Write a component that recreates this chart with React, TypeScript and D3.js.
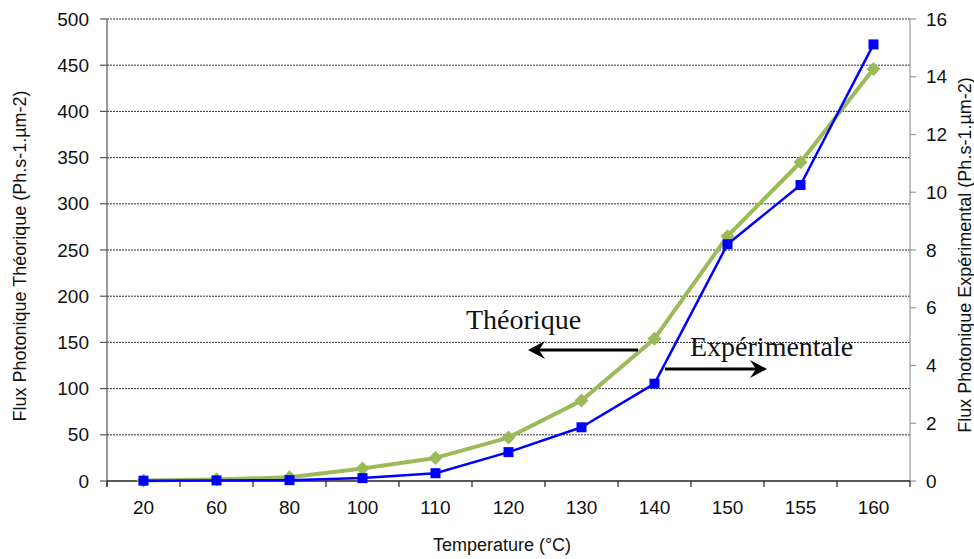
import React from "react";
import * as d3 from "d3";

const categories = ["20", "60", "80", "100", "110", "120", "130", "140", "150", "155", "160"];
const theorique = [0.5, 1.6, 4, 13.5, 25, 47, 87, 154, 265, 345, 446];
const experimental = [0.01, 0.02, 0.03, 0.1, 0.27, 1.0, 1.86, 3.37, 8.2, 10.25, 15.12];
const leftTicks = [0, 50, 100, 150, 200, 250, 300, 350, 400, 450, 500];
const rightTicks = [0, 2, 4, 6, 8, 10, 12, 14, 16];

const W = 974;
const H = 559;
const M = { left: 107, right: 910, top: 19, bottom: 481 };
const FONT = "'Liberation Sans', Arial, sans-serif";
const SERIF = "'Liberation Serif', 'Times New Roman', serif";
const GREEN = "#9BBB59";
const BLUE = "#0000FF";

export default function App() {
  const x = d3.scaleBand<string>().domain(categories).range([M.left, M.right]).padding(0);
  const yL = d3.scaleLinear().domain([0, 500]).range([M.bottom, M.top]);
  const yR = d3.scaleLinear().domain([0, 16]).range([M.bottom, M.top]);
  const cx = (c: string) => (x(c) as number) + x.bandwidth() / 2;

  const lineL = d3.line<number>().x((_, i) => cx(categories[i])).y((d) => yL(d));
  const lineR = d3.line<number>().x((_, i) => cx(categories[i])).y((d) => yR(d));

  const boundaries = categories.map((c) => x(c) as number).concat([M.right]);

  return (
    <svg width={W} height={H} style={{ position: "absolute", left: 0, top: 0, background: "#fff" }}>
      <rect x={0} y={0} width={W} height={H} fill="#fff" />
      {/* gridlines */}
      {leftTicks.map((t) =>
        t === 0 ? null : (
          <line key={"g" + t} x1={M.left} x2={M.right} y1={yL(t)} y2={yL(t)} stroke="#333" strokeWidth={1} strokeDasharray="2,1" />
        )
      )}
      {/* left axis */}
      <line x1={M.left} x2={M.left} y1={M.top} y2={M.bottom + 6} stroke="#555" strokeWidth={1.2} />
      {leftTicks.map((t) => (
        <g key={"l" + t}>
          <line x1={M.left - 7} x2={M.left} y1={yL(t)} y2={yL(t)} stroke="#555" strokeWidth={1.2} />
          <text x={89} y={yL(t)} dominantBaseline="central" textAnchor="end" fontFamily={FONT} fontSize={19} fill="#111">
            {t}
          </text>
        </g>
      ))}
      {/* right axis */}
      <line x1={M.right} x2={M.right} y1={M.top} y2={M.bottom} stroke="#999" strokeWidth={1.2} />
      {rightTicks.map((t) => (
        <g key={"r" + t}>
          <line x1={M.right} x2={M.right + 6} y1={yR(t)} y2={yR(t)} stroke="#999" strokeWidth={1.2} />
          <text x={926} y={yR(t)} dominantBaseline="central" textAnchor="start" fontFamily={FONT} fontSize={19} fill="#111">
            {t}
          </text>
        </g>
      ))}
      {/* bottom axis */}
      <line x1={M.left} x2={M.right} y1={M.bottom} y2={M.bottom} stroke="#222" strokeWidth={1.3} />
      {boundaries.map((b, i) => (
        <line key={"b" + i} x1={b} x2={b} y1={M.bottom} y2={M.bottom + 6} stroke="#222" strokeWidth={1.2} />
      ))}
      {categories.map((c) => (
        <text key={"c" + c} x={cx(c)} y={514} textAnchor="middle" fontFamily={FONT} fontSize={19} fill="#111">
          {c}
        </text>
      ))}
      {/* axis titles */}
      <text x={502} y={551} textAnchor="middle" fontFamily={FONT} fontSize={18} fill="#111">
        Temperature (°C)
      </text>
      <text
        transform={`translate(26,256) rotate(-90)`}
        textAnchor="middle"
        fontFamily={FONT}
        fontSize={18}
        fill="#111"
      >
        Flux Photonique Théorique (Ph.s-1.µm-2)
      </text>
      <text
        transform={`translate(971,255) rotate(-90)`}
        textAnchor="middle"
        fontFamily={FONT}
        fontSize={18}
        fill="#111"
      >
        Flux Photonique Expérimental (Ph.s-1.µm-2)
      </text>
      {/* series */}
      <path d={lineL(theorique) || ""} fill="none" stroke={GREEN} strokeWidth={4} strokeLinejoin="round" />
      {theorique.map((v, i) => {
        const px = cx(categories[i]);
        const py = yL(v);
        const s = 7;
        return (
          <path key={"d" + i} d={`M${px},${py - s}L${px + s},${py}L${px},${py + s}L${px - s},${py}Z`} fill={GREEN} />
        );
      })}
      <path d={lineR(experimental) || ""} fill="none" stroke={BLUE} strokeWidth={2.5} strokeLinejoin="round" />
      {experimental.map((v, i) => {
        const px = cx(categories[i]);
        const py = yR(v);
        const s = 5;
        return <rect key={"s" + i} x={px - s} y={py - s} width={2 * s} height={2 * s} fill={BLUE} />;
      })}
      {/* annotations */}
      <text x={466} y={329} fontFamily={SERIF} fontSize={28} fill="#111">
        Théorique
      </text>
      <line x1={536} x2={638} y1={350} y2={350} stroke="#000" strokeWidth={3} />
      <path d="M528,350L545,341L539,350L545,359Z" fill="#000" />
      <text x={690} y={356} fontFamily={SERIF} fontSize={28} fill="#111">
        Expérimentale
      </text>
      <line x1={665} x2={759} y1={369} y2={369} stroke="#000" strokeWidth={3} />
      <path d="M767,369L750,360L756,369L750,378Z" fill="#000" />
    </svg>
  );
}
